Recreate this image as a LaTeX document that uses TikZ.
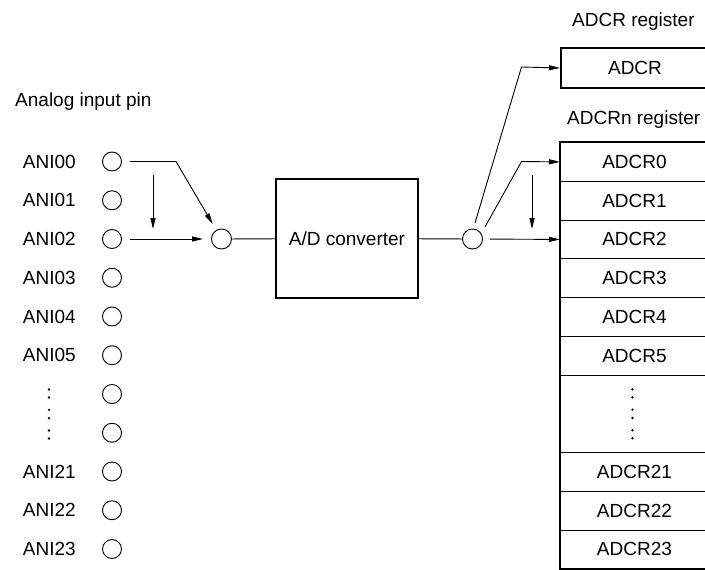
\documentclass[tikz,border=0pt]{standalone}
\usepackage{fontspec}
\setmainfont{Liberation Sans}
\usetikzlibrary{calc,arrows.meta,positioning}
\tikzset{
  ar/.style={-{Triangle[length=11pt,width=5pt]},line width=0.9pt},
  ln/.style={line width=0.9pt},
  pinc/.style={circle,draw,line width=0.9pt,minimum size=19pt,inner sep=0pt},
  box/.style={draw,line width=2pt,inner sep=0pt},
  cell/.style={draw,line width=0.9pt,minimum width=148pt,minimum height=38.75pt,inner sep=0pt,anchor=north west},
  lbl/.style={inner sep=0pt,anchor=base west},
  dotcol/.pic={\foreach \d in {-24.5,-16.5,-4.2,4.2,16.5,24.5} \fill (0,\d) circle (1.3pt);}
}
\begin{document}
\begin{tikzpicture}[x=1pt,y=-1pt,font=\fontsize{19}{23}\selectfont]
\useasboundingbox (0,0) rectangle (705,570);
\clip (0,0) rectangle (705,570);
% input pins
\node[lbl] (ttl) at (15,106) {Analog input pin};
\foreach \i in {0,...,10}
  \node[pinc] (p\i) at (112,161.5+38.75*\i) {};
\foreach \i/\t in {0/ANI00,1/ANI01,2/ANI02,3/ANI03,4/ANI04,5/ANI05,8/ANI21,9/ANI22,10/ANI23}
  \node[lbl] (t\i) at (22.7,168.2+38.75*\i) {\t};
\pic at (49,414) {dotcol};
% selector and converter
\node[pinc,minimum size=20pt] (mux) at (221.5,239) {};
\node[box,minimum width=142pt,minimum height=119pt] (adc) at (347,238.5) {A/D converter};
\node[pinc,minimum size=20pt] (dmx) at (472.5,239) {};
\coordinate (k0) at (176,161.5);
\draw[ar,shorten <=8pt,shorten >=7pt] (p0.east) -- (k0) -- (mux);
\draw[ar,shorten <=8pt,shorten >=8pt] (p2) -- (mux);
\coordinate (v0) at (153,175);
\coordinate (v1) at (153,229);
\draw[ar] (v0) -- (v1);
\draw[ln] (mux) -- (adc);
\draw[ln] (adc) -- (dmx);
% result registers
\node[lbl] (rl0) at (572,27) {ADCR register};
\node[box,minimum width=148pt,minimum height=40pt,anchor=north west] (adcr) at (560,47) {ADCR};
\node[lbl] (rl1) at (567,124) {ADCRn register};
\foreach \i/\t in {0/ADCR0,1/ADCR1,2/ADCR2,3/ADCR3,4/ADCR4,5/ADCR5,8/ADCR21,9/ADCR22,10/ADCR23}
  \node[cell] (r\i) at (560,142.1+38.75*\i) {\t};
\node[cell,minimum height=77.5pt] (r6) at (560,142.1+38.75*6) {};
\pic at ($(r6)+(-2,0)$) {dotcol};
\draw[line width=2pt] (r0.north west) rectangle (r10.south east);
\coordinate (s0) at ($(dmx)+(2.5,-16)$);
\coordinate (k1) at (521.5,67);
\draw[ar] (s0) -- (k1) -- (adcr.west);
\coordinate (s1) at ($(dmx)+(12.5,-12)$);
\coordinate (k2) at (521.5,161.5);
\draw[ar] (s1) -- (k2) -- (r0.west);
\draw[ar,shorten <=7pt] (dmx) -- (r2.west);
\coordinate (v2) at (532,175);
\coordinate (v3) at (532,229);
\draw[ar] (v2) -- (v3);
\end{tikzpicture}
\end{document}
